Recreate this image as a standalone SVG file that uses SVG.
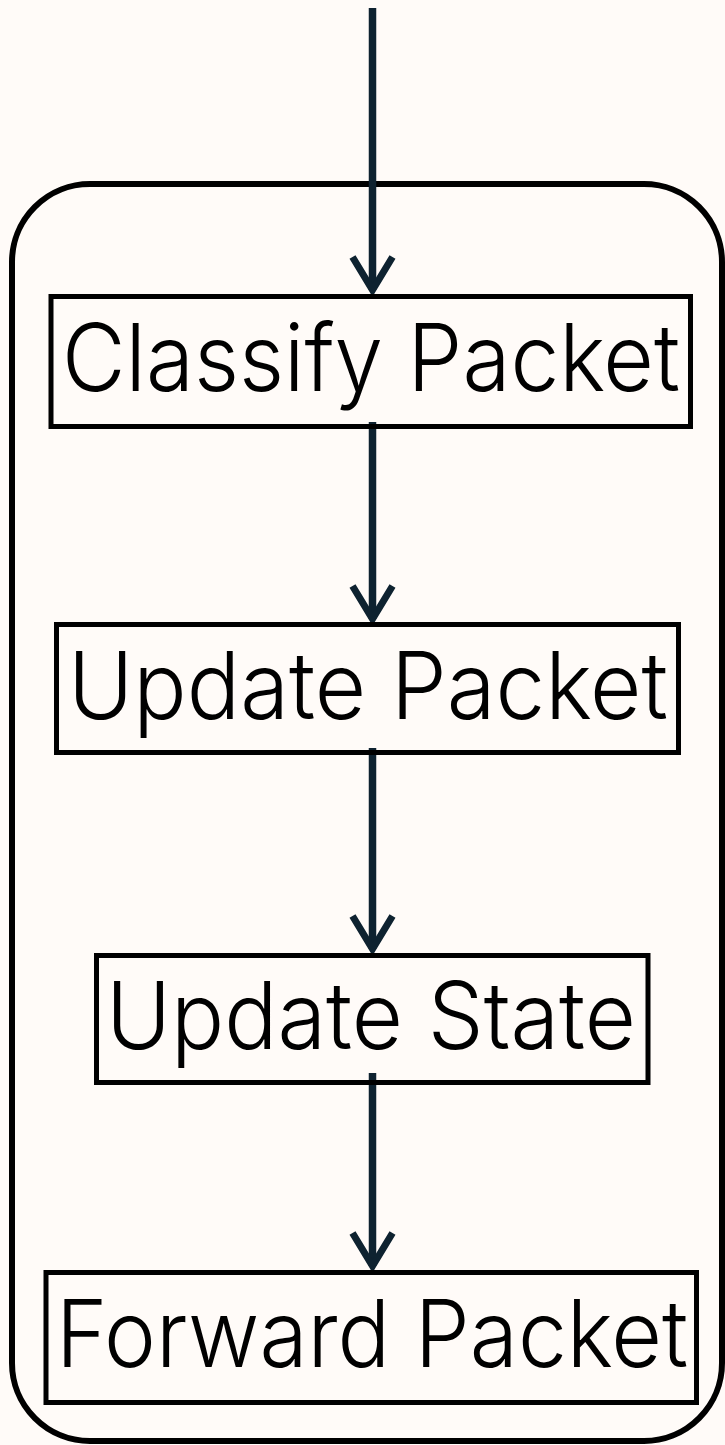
<svg xmlns="http://www.w3.org/2000/svg" width="725" height="1445" viewBox="0 0 725 1445">
  <style>
    .frame { fill: none; stroke: #000; stroke-width: 6; }
    .box { fill: none; stroke: #000; stroke-width: 5; }
    .label { font-family: "Inter", "Liberation Sans", sans-serif; font-weight: 300; font-size: 93px; fill: #000; text-anchor: middle; }
    .flow { fill: none; stroke: #0e2230; stroke-width: 7.5; marker-end: url(#chevron); }
  </style>
  <defs>
    <!-- open V arrowhead; the vertex sits on the end of the line -->
    <marker id="chevron" markerUnits="userSpaceOnUse" orient="auto" overflow="visible"
            viewBox="-40 -25 50 50" markerWidth="50" markerHeight="50" refX="0" refY="0">
      <path d="M -33,-20 L 0,0 L -33,20" fill="none" stroke="#0e2230" stroke-width="7" stroke-linejoin="miter"/>
    </marker>
  </defs>

  <rect width="725" height="1445" fill="#fffbf8"/>

  <!-- enclosing pipeline frame -->
  <rect class="frame" x="12" y="184" width="710" height="1257" rx="78" ry="78"/>

  <g id="connectors">
    <line class="flow" x1="372.5" y1="8" x2="372.5" y2="290"/>
    <line class="flow" x1="372.5" y1="422" x2="372.5" y2="619"/>
    <line class="flow" x1="372.5" y1="748" x2="372.5" y2="949"/>
    <line class="flow" x1="372.5" y1="1073" x2="372.5" y2="1266"/>
  </g>

  <g id="classify-packet">
    <rect class="box" x="51" y="296.5" width="639.5" height="130"/>
    <text class="label" x="371" y="391" textLength="618" lengthAdjust="spacingAndGlyphs">Classify Packet</text>
  </g>

  <g id="update-packet">
    <rect class="box" x="56.5" y="624.5" width="622" height="128"/>
    <text class="label" x="368" y="719" textLength="600" lengthAdjust="spacingAndGlyphs">Update Packet</text>
  </g>

  <g id="update-state">
    <rect class="box" x="96.5" y="955.5" width="551.5" height="127"/>
    <text class="label" x="371" y="1049" textLength="530" lengthAdjust="spacingAndGlyphs">Update State</text>
  </g>

  <g id="forward-packet">
    <rect class="box" x="46" y="1272.5" width="650.5" height="130"/>
    <text class="label" x="372" y="1367" textLength="632" lengthAdjust="spacingAndGlyphs">Forward Packet</text>
  </g>
</svg>
